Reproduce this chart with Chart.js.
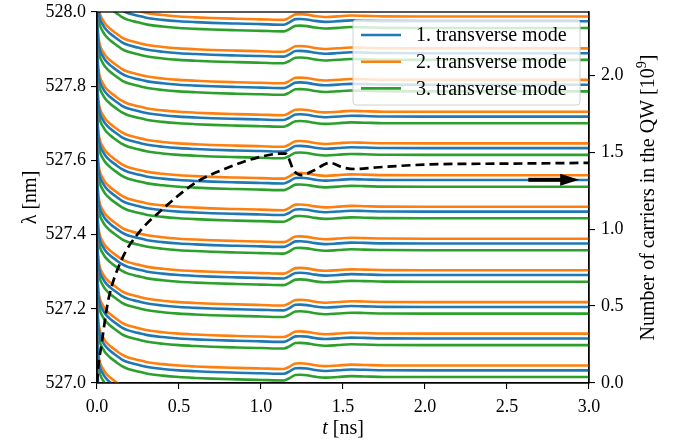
<!DOCTYPE html>
<html>
<head>
<meta charset="utf-8">
<script src="https://cdn.jsdelivr.net/npm/chart.js@4"></script>
<style>
  html, body { margin: 0; padding: 0; background: #fff; }
  #wrap { width: 680px; height: 444px; }
</style>
</head>
<body>
<div id="wrap"><canvas id="modeGraph" width="680" height="444"></canvas></div>
<script>
// time axis of the mode curves [ns]
const times = [0, 0.005, 0.01, 0.02, 0.035, 0.05, 0.08, 0.12, 0.15, 0.19, 0.25, 0.3, 0.4, 0.5, 0.6, 0.7, 0.85, 1.0, 1.14, 1.17, 1.21, 1.24, 1.28, 1.33, 1.4, 1.47, 1.55, 1.63, 1.75, 2.0, 2.5, 3.0];
// wavelength shift of every mode relative to its final value [nm]
const shift = [0.2065, 0.139, 0.112, 0.0906, 0.0771, 0.0663, 0.0528, 0.0394, 0.0299, 0.0218, 0.0151, 0.0097, 0.0038, 0, -0.0024, -0.0043, -0.0062, -0.0078, -0.0092, -0.0038, 0.0057, 0.0062, 0.0049, 0.0011, -0.0016, 0.0003, 0.0024, 0.0016, 0.0003, 0, 0, 0];

// final wavelength of each longitudinal mode [nm]
const mode1Levels = [527.975, 527.889, 527.804, 527.718, 527.633, 527.547, 527.462, 527.376, 527.291, 527.205, 527.120, 527.034, 526.949, 526.863, 526.778];
const mode2Levels = [527.988, 527.902, 527.817, 527.731, 527.646, 527.560, 527.475, 527.389, 527.304, 527.218, 527.133, 527.047, 526.962, 526.876, 526.791];
const mode3Levels = [527.957, 527.871, 527.786, 527.700, 527.615, 527.529, 527.444, 527.358, 527.273, 527.187, 527.102, 527.016, 526.931, 526.845, 526.760];

// carriers in the QW [1e9]
const carrierT = [0, 0.008, 0.029, 0.049, 0.069, 0.15, 0.25, 0.39, 0.6, 0.8, 1.0, 1.12, 1.15, 1.2, 1.25, 1.32, 1.42, 1.5, 1.58, 1.7, 2.03, 2.5, 3.0];
const carriers = [0, 0.106, 0.26, 0.41, 0.54, 0.80, 0.97, 1.12, 1.30, 1.40, 1.47, 1.49, 1.49, 1.38, 1.35, 1.38, 1.43, 1.40, 1.39, 1.40, 1.42, 1.425, 1.43];

const xTicks = [0, 0.5, 1, 1.5, 2, 2.5, 3];
const modeNames = ['1. transverse mode', '2. transverse mode', '3. transverse mode'];
const modeColors = ['#1f77b4', '#ff7f0e', '#2ca02c'];

const FONT = '"Liberation Serif", "DejaVu Serif", serif';
const fontSize = 18;   // tick labels
const wordSize = 20;   // legend and axis titles

const modeCurve = level => times.map((t, i) => ({ x: t, y: level + shift[i] }));

const datasets = [];
datasets.push({
    data: carrierT.map((t, i) => ({ x: t, y: carriers[i] })),
    yAxisID: 'y2',
    borderColor: '#000',
    borderWidth: 2.7,
    borderDash: [9, 5],
    cubicInterpolationMode: 'monotone',
    pointRadius: 0,
    order: 0
});
[mode1Levels, mode2Levels, mode3Levels].forEach((levels, m) => {
    levels.forEach(level => {
        datasets.push({
            data: modeCurve(level),
            yAxisID: 'y',
            borderColor: modeColors[m],
            borderWidth: 2.6,
            cubicInterpolationMode: 'monotone',
            pointRadius: 0,
            order: 1
        });
    });
});

const tickFont = { family: FONT, size: fontSize };
const axisGrid = { drawOnChartArea: false, tickLength: 6, color: '#000', lineWidth: 1.1 };
const axisBorder = { display: true, color: '#000', width: 1.3 };

const noVPad = s => { s.paddingTop = 0; s.paddingBottom = 0; };

const decorPlugin = {
    id: 'decor',
    afterDraw(chart) {
        const ctx = chart.ctx;
        const a = chart.chartArea;
        const x = chart.scales.x, y2 = chart.scales.y2;
        ctx.save();

        // frame
        ctx.strokeStyle = '#000';
        ctx.lineWidth = 1.3;
        ctx.strokeRect(a.left, a.top, a.right - a.left, a.bottom - a.top);

        // arrow pointing to the right axis
        const ay = y2.getPixelForValue(1.32);
        const ax0 = x.getPixelForValue(2.63), ax1 = x.getPixelForValue(2.94);
        ctx.fillStyle = '#000';
        ctx.fillRect(ax0, ay - 2, ax1 - ax0 - 16, 4);
        ctx.beginPath();
        ctx.moveTo(ax1, ay);
        ctx.lineTo(ax1 - 19, ay - 6);
        ctx.lineTo(ax1 - 19, ay + 6);
        ctx.closePath();
        ctx.fill();

        // legend
        const lx = 353, ly = 20, lw = 227, lh = 85;
        ctx.beginPath();
        ctx.roundRect(lx, ly, lw, lh, 3);
        ctx.fillStyle = 'rgba(255,255,255,0.8)';
        ctx.fill();
        ctx.strokeStyle = '#d0d0d0';
        ctx.lineWidth = 1;
        ctx.stroke();
        ctx.font = wordSize + 'px ' + FONT;
        ctx.textBaseline = 'middle';
        ctx.textAlign = 'left';
        modeNames.forEach((name, i) => {
            const ry = 35 + i * 26.7;
            ctx.strokeStyle = modeColors[i];
            ctx.lineWidth = 2.6;
            ctx.beginPath();
            ctx.moveTo(361, ry);
            ctx.lineTo(401, ry);
            ctx.stroke();
            ctx.fillStyle = '#000';
            ctx.fillText(name, 416, ry + 1);
        });

        // axis titles
        ctx.fillStyle = '#000';
        ctx.textBaseline = 'alphabetic';
        ctx.textAlign = 'left';
        // x title: italic t
        const xc = (a.left + a.right) / 2;
        ctx.font = 'italic ' + wordSize + 'px ' + FONT;
        const wt = ctx.measureText('t').width;
        ctx.font = wordSize + 'px ' + FONT;
        const wr = ctx.measureText(' [ns]').width;
        let sx = xc - (wt + wr) / 2;
        ctx.font = 'italic ' + wordSize + 'px ' + FONT;
        ctx.fillText('t', sx, 434);
        ctx.font = wordSize + 'px ' + FONT;
        ctx.fillText(' [ns]', sx + wt, 434);

        // left title
        ctx.save();
        ctx.translate(36, (a.top + a.bottom) / 2);
        ctx.rotate(-Math.PI / 2);
        ctx.textAlign = 'center';
        ctx.font = wordSize + 'px ' + FONT;
        ctx.fillText('\u03bb [nm]', 0, 0);
        ctx.restore();

        // right title with superscript
        ctx.save();
        ctx.translate(654, (a.top + a.bottom) / 2);
        ctx.rotate(-Math.PI / 2);
        const part1 = 'Number of carriers in the QW [10';
        ctx.font = wordSize + 'px ' + FONT;
        const w1 = ctx.measureText(part1).width;
        const w3 = ctx.measureText(']').width;
        ctx.font = (wordSize * 0.7) + 'px ' + FONT;
        const w2 = ctx.measureText('9').width;
        let px = -(w1 + w2 + w3) / 2;
        ctx.font = wordSize + 'px ' + FONT;
        ctx.fillText(part1, px, 0);
        ctx.font = (wordSize * 0.7) + 'px ' + FONT;
        ctx.fillText('9', px + w1, -8);
        ctx.font = wordSize + 'px ' + FONT;
        ctx.fillText(']', px + w1 + w2, 0);
        ctx.restore();

        ctx.restore();
    }
};

const ctx = document.getElementById('modeGraph');
new Chart(ctx, {
    type: 'line',
    data: { datasets: datasets },
    options: {
        responsive: false,
        animation: false,
        events: [],
        layout: { padding: { top: 12, left: 0, right: 0, bottom: 0 } },
        plugins: { legend: { display: false }, tooltip: { enabled: false } },
        scales: {
            x: {
                type: 'linear', min: 0, max: 3,
                afterBuildTicks: s => { s.ticks = xTicks.map(v => ({ value: v })); },
                ticks: { font: tickFont, color: '#000', padding: 7, maxRotation: 0, callback: v => v.toFixed(1) },
                grid: axisGrid, border: axisBorder,
                afterFit: s => { s.height = 61; s.paddingLeft = 0; s.paddingRight = 0; }
            },
            y: {
                position: 'left', min: 527, max: 528,
                ticks: { stepSize: 0.2, font: tickFont, color: '#000', padding: 5, callback: v => v.toFixed(1) },
                grid: axisGrid, border: axisBorder,
                afterFit: s => { s.width = 97; noVPad(s); }
            },
            y2: {
                position: 'right', min: 0, max: 2.41,
                ticks: { stepSize: 0.5, includeBounds: false, font: tickFont, color: '#000', padding: 6, callback: v => v.toFixed(1) },
                grid: axisGrid, border: axisBorder,
                afterFit: s => { s.width = 91; noVPad(s); }
            }
        }
    },
    plugins: [decorPlugin]
});
</script>
</body>
</html>
